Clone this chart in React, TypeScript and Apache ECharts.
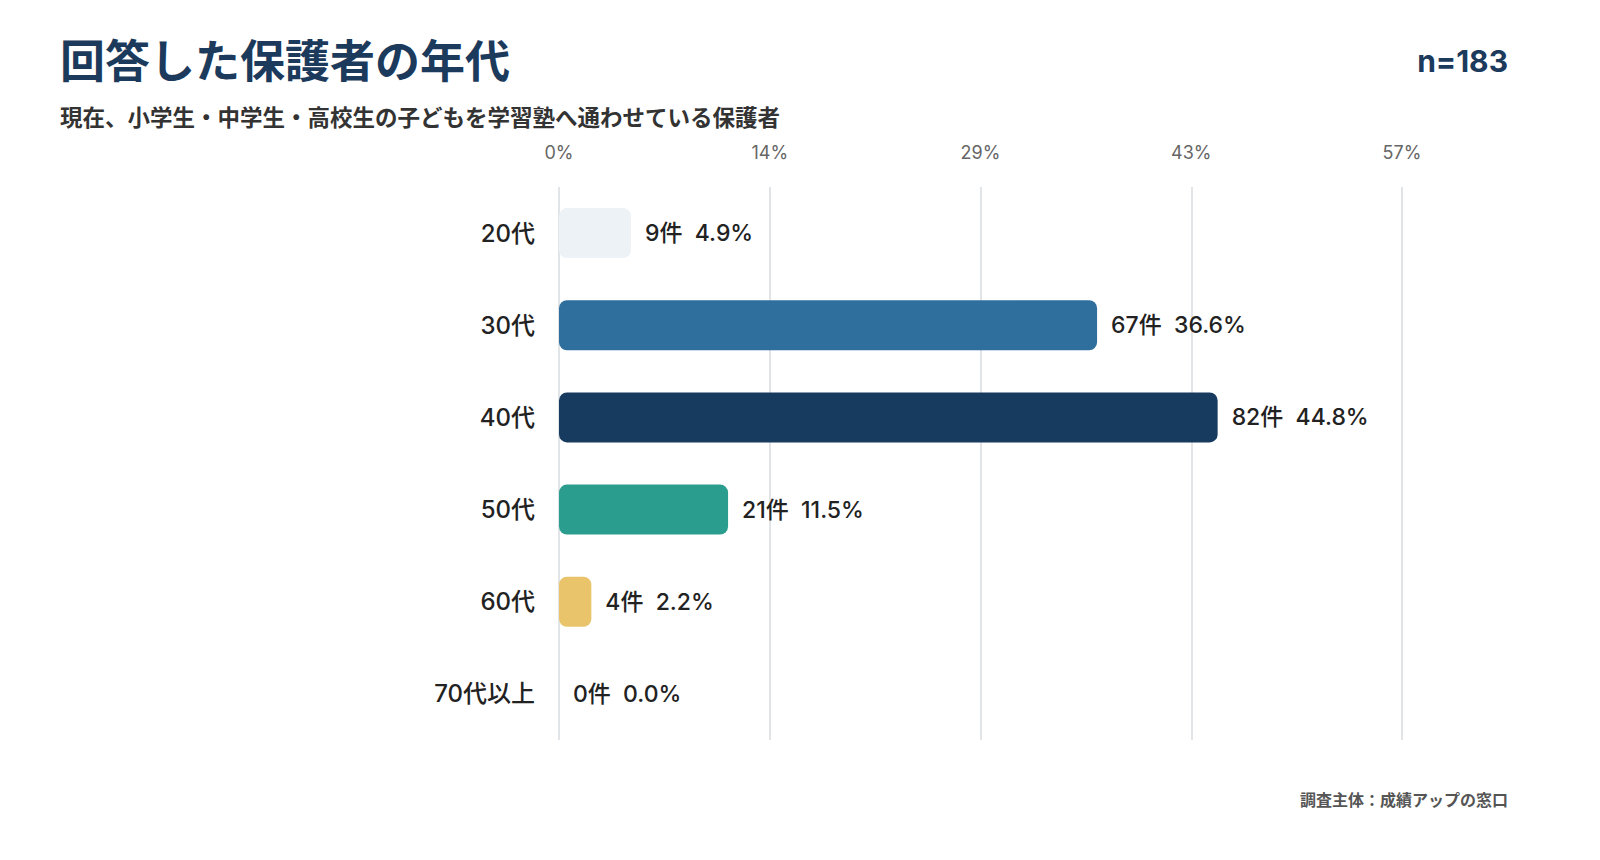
import React, { useEffect, useRef } from "react";
import * as echarts from "echarts";

const categories = ["20代", "30代", "40代", "50代", "60代", "70代以上"];
const counts = [9, 67, 82, 21, 4, 0];
const percents = [4.9, 36.6, 44.8, 11.5, 2.2, 0.0];
const colors = ["#edf2f7", "#2e6f9e", "#173b5e", "#2a9d8f", "#e9c46a", "#cccccc"];
const axisMax = 57.34;

export default function App() {
  const ref = useRef<HTMLDivElement>(null);
  useEffect(() => {
    const chart = echarts.init(ref.current!, null, { renderer: "svg" });
    const font = "'Inter','Noto Sans CJK JP',sans-serif";
    chart.setOption({
      animation: false,
      backgroundColor: "#ffffff",
      textStyle: { fontFamily: font },
      graphic: [
        { type: "text", left: 60, top: 39, style: { text: "回答した保護者の年代", font: `bold 45px ${font}`, fill: "#1b3a5c" } },
        { type: "text", left: 60, top: 106, style: { text: "現在、小学生・中学生・高校生の子どもを学習塾へ通わせている保護者", font: `bold 22.5px ${font}`, fill: "#333333" } },
        { type: "text", right: 92, top: 46, style: { text: "n=183", font: `bold 30px ${font}`, fill: "#1b3a5c" } },
        { type: "text", right: 92, top: 792, style: { text: "調査主体：成績アップの窓口", font: `bold 16px ${font}`, fill: "#555555" } },
      ],
      grid: { left: 559, right: 198, top: 187, bottom: 120 },
      xAxis: {
        type: "value", position: "top", min: 0, max: axisMax, interval: axisMax / 4,
        axisLine: { show: false }, axisTick: { show: false },
        axisLabel: { formatter: (v: number) => Math.round(v) + "%", color: "#666", fontSize: 18, margin: 26 },
        splitLine: { lineStyle: { color: "#d9dde1", width: 1.5 } },
      },
      yAxis: {
        type: "category", data: categories, inverse: true,
        axisLine: { show: false }, axisTick: { show: false },
        axisLabel: { color: "#222", fontSize: 24, fontWeight: 500, margin: 24 },
      },
      series: [{
        type: "bar", barWidth: 50,
        data: percents.map((p, i) => ({ value: p, itemStyle: { color: colors[i], borderRadius: 8 } })),
        label: {
          show: true, position: "right", distance: 14, color: "#222", fontSize: 23, fontWeight: 500,
          formatter: (p: any) => `${counts[p.dataIndex]}件  ${percents[p.dataIndex].toFixed(1)}%`,
        },
      }],
    });
    return () => chart.dispose();
  }, []);
  return <div ref={ref} style={{ position: "fixed", left: 0, top: 0, width: 1600, height: 860 }} />;
}
